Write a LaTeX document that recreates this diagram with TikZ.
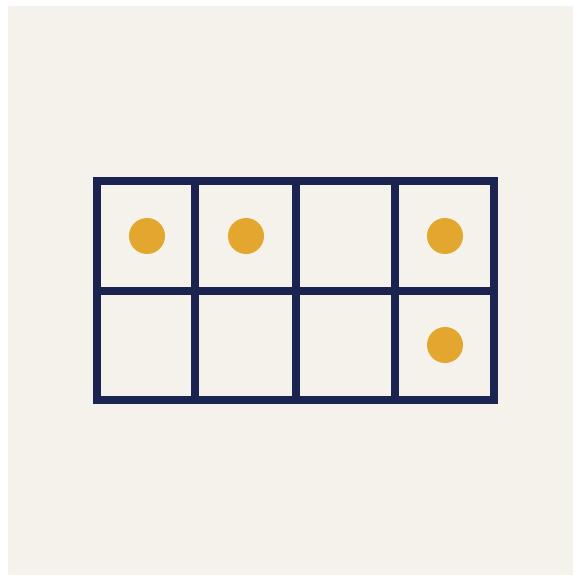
\documentclass[tikz,border=0pt]{standalone}
\usepackage{tikz}
\usetikzlibrary{positioning, calc}
\usepackage{xcolor}

\definecolor{paper}{HTML}{F4F2EA}
\definecolor{frame}{HTML}{1B2350}
\definecolor{counter}{HTML}{E3A72F}

\begin{document}
\begin{tikzpicture}[
        x=1pt, y=-1pt,
        gridline/.style={draw=frame, line width=8pt, line join=miter},
        dot/.style={circle, fill=counter, inner sep=0pt, minimum size=36pt}
    ]

        % canvas
        \useasboundingbox (0,0) rectangle (575,578);
        \fill[white] (0,0) rectangle (575,578);
        \fill[paper] (8,6) rectangle (573,575);

        % ten frame (2 x 4)
        \draw[gridline] (97,181) rectangle (494,400);
        \foreach \xx in {195,296,395}
            \draw[gridline] (\xx,181) -- (\xx,400);
        \draw[gridline] (97,291) -- (494,291);

        % counters
        \node[dot] (c1) at (147,236) {};
        \node[dot] (c2) at (246,236) {};
        \node[dot] (c3) at (445,236) {};
        \node[dot] (c4) at (445,345) {};
    \end{tikzpicture}
\end{document}
